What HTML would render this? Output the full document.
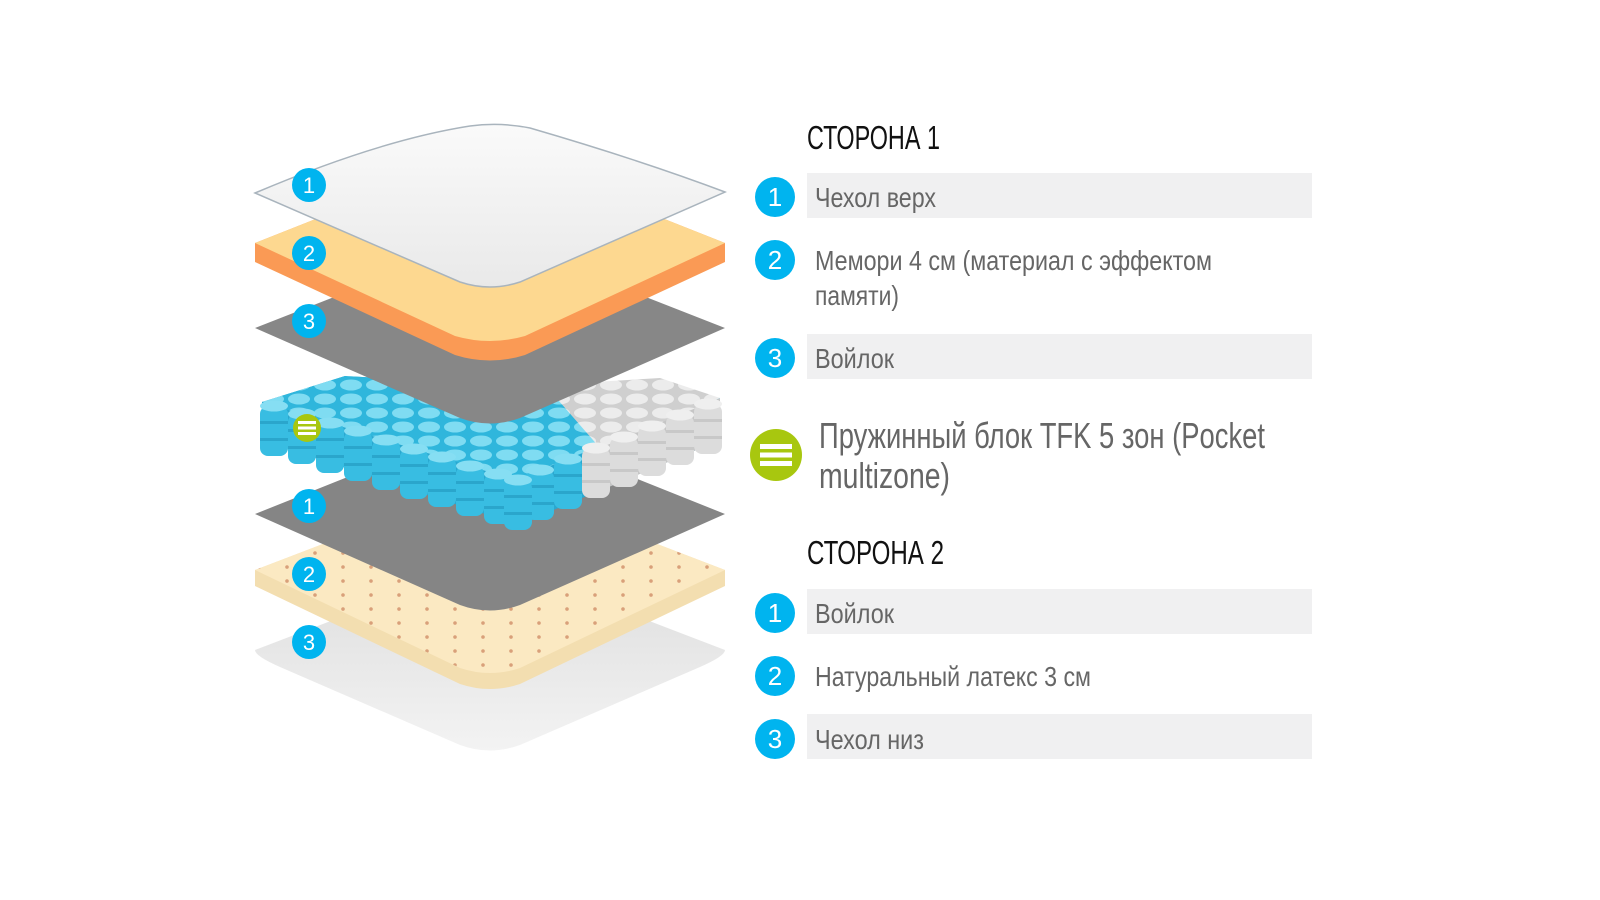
<!DOCTYPE html>
<html><head><meta charset="utf-8"><style>
html,body{margin:0;padding:0;background:#fff;}
svg{display:block}
text{font-family:"Liberation Sans Narrow","Liberation Sans",sans-serif;}
</style></head><body>
<svg width="1600" height="900" viewBox="0 0 1600 900" xmlns="http://www.w3.org/2000/svg">
<defs>
<linearGradient id="wh" x1="0" y1="0" x2="0" y2="1"><stop offset="0" stop-color="#fafafa"/><stop offset="1" stop-color="#e9e9e9"/></linearGradient>
<linearGradient id="bot" x1="0" y1="0" x2="0" y2="1"><stop offset="0" stop-color="#dcdcdc"/><stop offset="1" stop-color="#f3f3f3"/></linearGradient>
<pattern id="sp" width="26" height="14" patternUnits="userSpaceOnUse"><rect width="26" height="14" fill="#2fb6dc"/><ellipse cx="13" cy="7" rx="11" ry="5.5" fill="#7fdcf2"/></pattern>
<pattern id="spw" width="26" height="14" patternUnits="userSpaceOnUse"><rect width="26" height="14" fill="#cfcfcf"/><ellipse cx="13" cy="7" rx="11" ry="5.5" fill="#ececec"/></pattern>
<pattern id="dots" width="28" height="14" patternUnits="userSpaceOnUse"><rect width="28" height="14" fill="#fbe9c2"/><circle cx="7" cy="7" r="1.8" fill="#d9a07a"/></pattern>
<g id="cb"><rect x="-14" y="0" width="28" height="50" rx="8" fill="#38bde2"/><rect x="-14" y="15" width="28" height="3" fill="#2aa6cc"/><rect x="-14" y="32" width="28" height="3" fill="#2aa6cc"/><ellipse cx="0" cy="0" rx="14" ry="5.5" fill="#86def3"/></g>
<g id="cg"><rect x="-14" y="0" width="28" height="50" rx="8" fill="#dcdcdc"/><rect x="-14" y="15" width="28" height="3" fill="#c8c8c8"/><rect x="-14" y="32" width="28" height="3" fill="#c8c8c8"/><ellipse cx="0" cy="0" rx="14" ry="5.5" fill="#efefef"/></g>
</defs>

<!-- bottom cover -->
<path d="M255,650 L490,560 L725,650 Q725,656 700,667 L520,745 Q490,756 460,745 L280,667 Q255,656 255,650Z" fill="url(#bot)"/>
<!-- latex -->
<path d="M255,570 L490,480 L725,570 L725,586 L520,684 Q490,694 460,684 L255,586Z" fill="#f3deb0"/>
<path d="M255,570 L490,480 L725,570 L520,668 Q490,678 460,668Z" fill="url(#dots)"/>
<!-- felt 2 -->
<path d="M255,514 L490,420 L725,514 L520,605 Q490,616 460,605Z" fill="#858585"/>
<!-- springs -->
<path d="M262,402 L345,376 L720,398 L720,440 L518,525 L262,440Z" fill="#2aa8d0"/>
<path d="M590,450 L720,398 L720,440 L590,495Z" fill="#c6c6c6"/>
<path d="M262,402 L345,376 L720,398 L515,480Z" fill="url(#sp)"/>
<path d="M545,385 L660,378 L720,398 L600,448Z" fill="url(#spw)"/>
<use href="#cg" x="708" y="404"/><use href="#cg" x="680" y="415"/><use href="#cg" x="652" y="426"/><use href="#cg" x="624" y="437"/><use href="#cg" x="596" y="448"/><use href="#cb" x="568" y="459"/><use href="#cb" x="540" y="470"/>
<use href="#cb" x="274" y="406"/><use href="#cb" x="302" y="414"/><use href="#cb" x="330" y="423"/><use href="#cb" x="358" y="431"/><use href="#cb" x="386" y="440"/><use href="#cb" x="414" y="449"/><use href="#cb" x="442" y="457"/><use href="#cb" x="470" y="466"/><use href="#cb" x="498" y="474"/>
<use href="#cb" x="518" y="480"/>
<!-- felt 1 -->
<path d="M255,328 L490,236 L725,328 L520,418 Q490,429 460,418Z" fill="#878787"/>
<!-- orange -->
<path d="M255,243 L490,150 L725,243 L725,262 L525,355 Q490,366 455,355 L255,262Z" fill="#fa9a55"/>
<path d="M255,243 L490,150 L725,243 L525,336 Q490,346 455,336Z" fill="#fdd890"/>
<!-- top cover -->
<path d="M255,193 Q380,140 470,126 Q500,122 530,128 Q640,160 725,192 L520,282 Q490,292 460,282Z" fill="url(#wh)" stroke="#a9b4bd" stroke-width="1.5"/>

<!-- left badges -->
<g fill="#00b4ef"><circle cx="309" cy="185" r="17"/><circle cx="309" cy="253" r="17"/><circle cx="309" cy="321" r="17"/><circle cx="309" cy="506" r="17"/><circle cx="309" cy="574" r="17"/><circle cx="309" cy="642" r="17"/></g>
<g fill="#fff" font-size="22" text-anchor="middle"><text x="309" y="193">1</text><text x="309" y="261">2</text><text x="309" y="329">3</text><text x="309" y="514">1</text><text x="309" y="582">2</text><text x="309" y="650">3</text></g>
<circle cx="307" cy="428" r="14" fill="#a8c70f"/>
<g fill="#fff"><rect x="298" y="421" width="18" height="3"/><rect x="298" y="426.5" width="18" height="3"/><rect x="298" y="432" width="18" height="3"/></g>

<!-- right panel -->
<g fill="#f0f0f1"><rect x="807" y="173" width="505" height="45"/><rect x="807" y="334" width="505" height="45"/><rect x="807" y="589" width="505" height="45"/><rect x="807" y="714" width="505" height="45"/></g>
<g fill="#00b4ef"><circle cx="775" cy="197" r="20"/><circle cx="775" cy="260" r="20"/><circle cx="775" cy="358" r="20"/><circle cx="775" cy="613" r="20"/><circle cx="775" cy="676" r="20"/><circle cx="775" cy="739" r="20"/></g>
<g fill="#fff" font-size="26" text-anchor="middle"><text x="775" y="206">1</text><text x="775" y="269">2</text><text x="775" y="367">3</text><text x="775" y="622">1</text><text x="775" y="685">2</text><text x="775" y="748">3</text></g>
<circle cx="776" cy="455" r="26" fill="#a8c70f"/>
<g fill="#fff"><rect x="760" y="444" width="32" height="5"/><rect x="760" y="452.5" width="32" height="5"/><rect x="760" y="461" width="32" height="5"/></g>

<g fill="#111" font-size="33"><text x="807" y="149" textLength="133" lengthAdjust="spacingAndGlyphs">СТОРОНА 1</text><text x="807" y="564" textLength="137" lengthAdjust="spacingAndGlyphs">СТОРОНА 2</text></g>
<g fill="#666" font-size="28">
<text x="815" y="207" textLength="121" lengthAdjust="spacingAndGlyphs">Чехол верх</text>
<text x="815" y="270" textLength="397" lengthAdjust="spacingAndGlyphs">Мемори 4 см (материал с эффектом</text>
<text x="815" y="305" textLength="84" lengthAdjust="spacingAndGlyphs">памяти)</text>
<text x="815" y="368" textLength="79" lengthAdjust="spacingAndGlyphs">Войлок</text>
<text x="815" y="623" textLength="79" lengthAdjust="spacingAndGlyphs">Войлок</text>
<text x="815" y="686" textLength="276" lengthAdjust="spacingAndGlyphs">Натуральный латекс 3 см</text>
<text x="815" y="749" textLength="109" lengthAdjust="spacingAndGlyphs">Чехол низ</text>
</g>
<g fill="#666" font-size="36">
<text x="819" y="448" textLength="446" lengthAdjust="spacingAndGlyphs">Пружинный блок TFK 5 зон (Pocket</text>
<text x="819" y="488" textLength="131" lengthAdjust="spacingAndGlyphs">multizone)</text>
</g>
</svg>
</body></html>
